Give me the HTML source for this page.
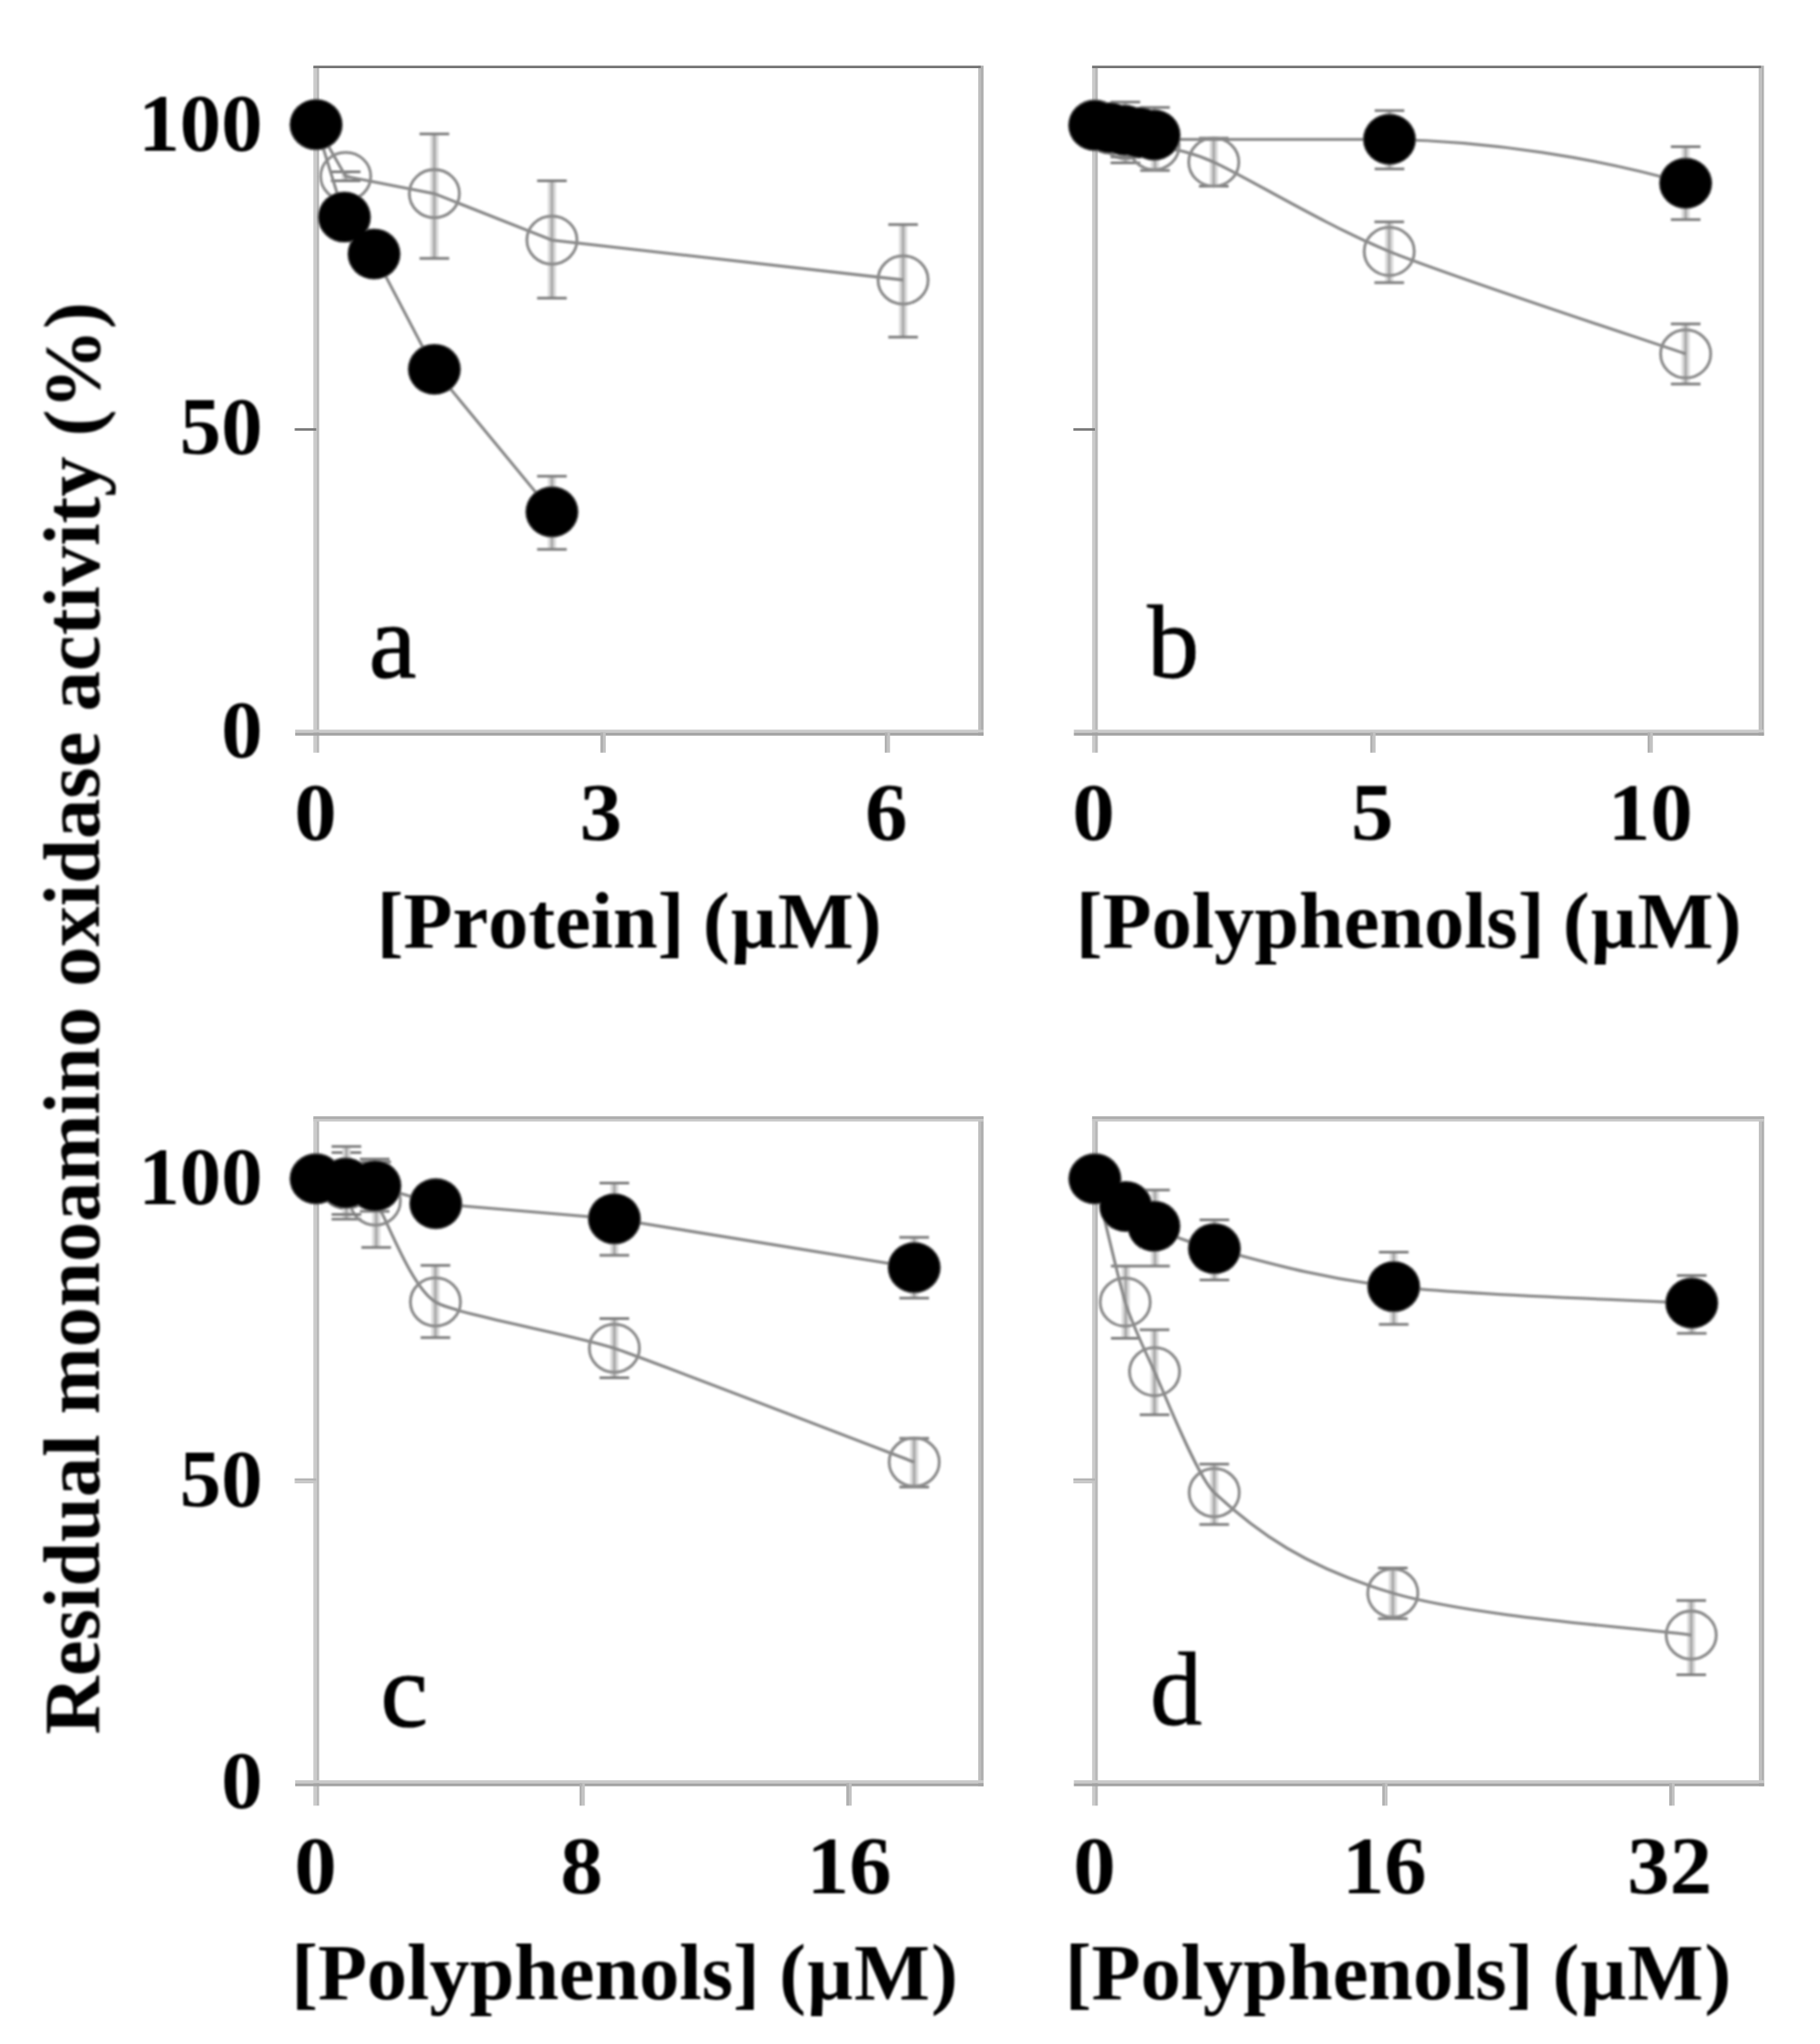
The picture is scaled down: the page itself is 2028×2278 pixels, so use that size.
<!DOCTYPE html>
<html lang="en"><head><meta charset="utf-8"><title>Residual monoamino oxidase activity</title>
<style>
html,body{margin:0;padding:0;background:#fff;}
body{width:2028px;height:2278px;overflow:hidden;}
svg{display:block;font-family:"Liberation Serif","DejaVu Serif",serif;fill:#000;}
.soft{filter:blur(0.8px);}
.crisp{filter:blur(0.35px);}
.tsoft{filter:blur(1.1px);}
</style></head><body>
<svg width="2028" height="2278" viewBox="0 0 2028 2278">
<rect width="2028" height="2278" fill="#fff"/>
<g class="crisp">
<rect x="349.20" y="74.6" width="3.20" height="764.20" fill="#cbcbcb"/>
<rect x="352.40" y="74.6" width="3.20" height="764.20" fill="#b8b8b8"/>
<rect x="1090.05" y="73.19999999999999" width="2.95" height="746.60" fill="#bebebe"/>
<rect x="1093.00" y="73.19999999999999" width="2.95" height="746.60" fill="#b0b0b0"/>
<rect x="349.2" y="73.19999999999999" width="743.60" height="2.8" fill="#757575"/>
<rect x="328.4" y="477.20000000000005" width="24" height="2.8" fill="#7a7a7a"/>
<rect x="328.9" y="813.20" width="767.00" height="3.30" fill="#cacaca"/>
<rect x="328.9" y="816.50" width="767.00" height="3.30" fill="#a2a2a2"/>
<rect x="669.05" y="816.5" width="2.95" height="22.30" fill="#b0b0b0"/>
<rect x="672.00" y="816.5" width="2.95" height="22.30" fill="#c2c2c2"/>
<rect x="985.85" y="816.5" width="2.95" height="22.30" fill="#b0b0b0"/>
<rect x="988.80" y="816.5" width="2.95" height="22.30" fill="#c2c2c2"/>
<rect x="1216.90" y="74.6" width="3.20" height="764.20" fill="#cbcbcb"/>
<rect x="1220.10" y="74.6" width="3.20" height="764.20" fill="#b8b8b8"/>
<rect x="1959.65" y="73.19999999999999" width="2.95" height="746.60" fill="#bebebe"/>
<rect x="1962.60" y="73.19999999999999" width="2.95" height="746.60" fill="#b0b0b0"/>
<rect x="1216.8999999999999" y="73.19999999999999" width="745.50" height="2.8" fill="#757575"/>
<rect x="1196.1" y="477.20000000000005" width="24" height="2.8" fill="#7a7a7a"/>
<rect x="1196.6" y="813.20" width="768.90" height="3.30" fill="#cacaca"/>
<rect x="1196.6" y="816.50" width="768.90" height="3.30" fill="#a2a2a2"/>
<rect x="1526.85" y="816.5" width="2.95" height="22.30" fill="#b0b0b0"/>
<rect x="1529.80" y="816.5" width="2.95" height="22.30" fill="#c2c2c2"/>
<rect x="1835.85" y="816.5" width="2.95" height="22.30" fill="#b0b0b0"/>
<rect x="1838.80" y="816.5" width="2.95" height="22.30" fill="#c2c2c2"/>
<rect x="349.20" y="1246" width="3.20" height="766.40" fill="#cbcbcb"/>
<rect x="352.40" y="1246" width="3.20" height="766.40" fill="#b8b8b8"/>
<rect x="1090.05" y="1244.6" width="2.95" height="746.10" fill="#bebebe"/>
<rect x="1093.00" y="1244.6" width="2.95" height="746.10" fill="#b0b0b0"/>
<rect x="349.2" y="1244.15" width="746.70" height="2.85" fill="#adadad"/>
<rect x="349.2" y="1247.00" width="746.70" height="2.85" fill="#c8c8c8"/>
<rect x="328.4" y="1647.60" width="24.00" height="2.80" fill="#b4b4b4"/>
<rect x="328.4" y="1650.40" width="24.00" height="2.80" fill="#c6c6c6"/>
<rect x="328.9" y="1984.10" width="767.00" height="3.30" fill="#cacaca"/>
<rect x="328.9" y="1987.40" width="767.00" height="3.30" fill="#a2a2a2"/>
<rect x="645.75" y="1987.4" width="2.95" height="25.00" fill="#b0b0b0"/>
<rect x="648.70" y="1987.4" width="2.95" height="25.00" fill="#c2c2c2"/>
<rect x="943.05" y="1987.4" width="2.95" height="25.00" fill="#b0b0b0"/>
<rect x="946.00" y="1987.4" width="2.95" height="25.00" fill="#c2c2c2"/>
<rect x="1216.90" y="1246" width="3.20" height="766.40" fill="#cbcbcb"/>
<rect x="1220.10" y="1246" width="3.20" height="766.40" fill="#b8b8b8"/>
<rect x="1959.85" y="1244.6" width="2.95" height="746.10" fill="#bebebe"/>
<rect x="1962.80" y="1244.6" width="2.95" height="746.10" fill="#b0b0b0"/>
<rect x="1216.8999999999999" y="1244.15" width="748.80" height="2.85" fill="#adadad"/>
<rect x="1216.8999999999999" y="1247.00" width="748.80" height="2.85" fill="#c8c8c8"/>
<rect x="1196.1" y="1647.60" width="24.00" height="2.80" fill="#b4b4b4"/>
<rect x="1196.1" y="1650.40" width="24.00" height="2.80" fill="#c6c6c6"/>
<rect x="1196.6" y="1984.10" width="769.10" height="3.30" fill="#cacaca"/>
<rect x="1196.6" y="1987.40" width="769.10" height="3.30" fill="#a2a2a2"/>
<rect x="1540.25" y="1987.4" width="2.95" height="25.00" fill="#b0b0b0"/>
<rect x="1543.20" y="1987.4" width="2.95" height="25.00" fill="#c2c2c2"/>
<rect x="1860.05" y="1987.4" width="2.95" height="25.00" fill="#b0b0b0"/>
<rect x="1863.00" y="1987.4" width="2.95" height="25.00" fill="#c2c2c2"/>
</g>
<g class="soft">
<line x1="385.2" y1="191.5" x2="385.2" y2="201.5" stroke="#dadada" stroke-width="9.2"/>
<line x1="385.2" y1="191.5" x2="385.2" y2="201.5" stroke="#a9a9a9" stroke-width="3.1"/>
<line x1="368.7" y1="191.5" x2="401.7" y2="191.5" stroke="#7c7c7c" stroke-width="3"/>
<line x1="368.7" y1="201.5" x2="401.7" y2="201.5" stroke="#7c7c7c" stroke-width="3"/>
<line x1="484" y1="149.3" x2="484" y2="288.1" stroke="#dadada" stroke-width="9.2"/>
<line x1="484" y1="149.3" x2="484" y2="288.1" stroke="#a9a9a9" stroke-width="3.1"/>
<line x1="467.5" y1="149.3" x2="500.5" y2="149.3" stroke="#7c7c7c" stroke-width="3"/>
<line x1="467.5" y1="288.1" x2="500.5" y2="288.1" stroke="#7c7c7c" stroke-width="3"/>
<line x1="615" y1="201.4" x2="615" y2="332.2" stroke="#dadada" stroke-width="9.2"/>
<line x1="615" y1="201.4" x2="615" y2="332.2" stroke="#a9a9a9" stroke-width="3.1"/>
<line x1="598.5" y1="201.4" x2="631.5" y2="201.4" stroke="#7c7c7c" stroke-width="3"/>
<line x1="598.5" y1="332.2" x2="631.5" y2="332.2" stroke="#7c7c7c" stroke-width="3"/>
<line x1="1006.3" y1="250.2" x2="1006.3" y2="375.7" stroke="#dadada" stroke-width="9.2"/>
<line x1="1006.3" y1="250.2" x2="1006.3" y2="375.7" stroke="#a9a9a9" stroke-width="3.1"/>
<line x1="989.8" y1="250.2" x2="1022.8" y2="250.2" stroke="#7c7c7c" stroke-width="3"/>
<line x1="989.8" y1="375.7" x2="1022.8" y2="375.7" stroke="#7c7c7c" stroke-width="3"/>
<path d="M352.2 138.9 L385.2 196.6 L484.0 215.8 L615.0 267.6 L1006.3 312.0" fill="none" stroke="#888888" stroke-width="3.3"/>
<ellipse cx="352.2" cy="138.9" rx="27.900000000000002" ry="26.8" fill="none" stroke="#8c8c8c" stroke-width="3.3"/>
<ellipse cx="385.2" cy="196.6" rx="27.900000000000002" ry="26.8" fill="none" stroke="#8c8c8c" stroke-width="3.3"/>
<ellipse cx="484" cy="215.8" rx="27.900000000000002" ry="26.8" fill="none" stroke="#8c8c8c" stroke-width="3.3"/>
<ellipse cx="615" cy="267.6" rx="27.900000000000002" ry="26.8" fill="none" stroke="#8c8c8c" stroke-width="3.3"/>
<ellipse cx="1006.3" cy="312" rx="27.900000000000002" ry="26.8" fill="none" stroke="#8c8c8c" stroke-width="3.3"/>
<line x1="615" y1="530.7" x2="615" y2="612.3" stroke="#dadada" stroke-width="9.2"/>
<line x1="615" y1="530.7" x2="615" y2="612.3" stroke="#a9a9a9" stroke-width="3.1"/>
<line x1="598.5" y1="530.7" x2="631.5" y2="530.7" stroke="#7c7c7c" stroke-width="3"/>
<line x1="598.5" y1="612.3" x2="631.5" y2="612.3" stroke="#7c7c7c" stroke-width="3"/>
<path d="M352.2 138.9 L383.8 241.9 L416.8 283.1 L484.0 411.6 L615.0 570.5" fill="none" stroke="#888888" stroke-width="3.3"/>
<ellipse cx="352.2" cy="138.9" rx="29.8" ry="28.7" fill="#555"/>
<ellipse cx="383.8" cy="241.9" rx="29.8" ry="28.7" fill="#555"/>
<ellipse cx="416.8" cy="283.1" rx="29.8" ry="28.7" fill="#555"/>
<ellipse cx="484" cy="411.6" rx="29.8" ry="28.7" fill="#555"/>
<ellipse cx="615" cy="570.5" rx="29.8" ry="28.7" fill="#555"/>
<ellipse cx="352.2" cy="138.9" rx="28.2" ry="27.099999999999998" fill="#000"/>
<ellipse cx="383.8" cy="241.9" rx="28.2" ry="27.099999999999998" fill="#000"/>
<ellipse cx="416.8" cy="283.1" rx="28.2" ry="27.099999999999998" fill="#000"/>
<ellipse cx="484" cy="411.6" rx="28.2" ry="27.099999999999998" fill="#000"/>
<ellipse cx="615" cy="570.5" rx="28.2" ry="27.099999999999998" fill="#000"/>
<line x1="1254" y1="135" x2="1254" y2="181.6" stroke="#dadada" stroke-width="9.2"/>
<line x1="1254" y1="135" x2="1254" y2="181.6" stroke="#a9a9a9" stroke-width="3.1"/>
<line x1="1237.5" y1="135" x2="1270.5" y2="135" stroke="#7c7c7c" stroke-width="3"/>
<line x1="1237.5" y1="181.6" x2="1270.5" y2="181.6" stroke="#7c7c7c" stroke-width="3"/>
<line x1="1287" y1="131" x2="1287" y2="190" stroke="#dadada" stroke-width="9.2"/>
<line x1="1287" y1="131" x2="1287" y2="190" stroke="#a9a9a9" stroke-width="3.1"/>
<line x1="1270.5" y1="131" x2="1303.5" y2="131" stroke="#7c7c7c" stroke-width="3"/>
<line x1="1270.5" y1="190" x2="1303.5" y2="190" stroke="#7c7c7c" stroke-width="3"/>
<line x1="1352.5" y1="154" x2="1352.5" y2="207.6" stroke="#dadada" stroke-width="9.2"/>
<line x1="1352.5" y1="154" x2="1352.5" y2="207.6" stroke="#a9a9a9" stroke-width="3.1"/>
<line x1="1336.0" y1="154" x2="1369.0" y2="154" stroke="#7c7c7c" stroke-width="3"/>
<line x1="1336.0" y1="207.6" x2="1369.0" y2="207.6" stroke="#7c7c7c" stroke-width="3"/>
<line x1="1548" y1="247.3" x2="1548" y2="315" stroke="#dadada" stroke-width="9.2"/>
<line x1="1548" y1="247.3" x2="1548" y2="315" stroke="#a9a9a9" stroke-width="3.1"/>
<line x1="1531.5" y1="247.3" x2="1564.5" y2="247.3" stroke="#7c7c7c" stroke-width="3"/>
<line x1="1531.5" y1="315" x2="1564.5" y2="315" stroke="#7c7c7c" stroke-width="3"/>
<line x1="1878.3" y1="360.9" x2="1878.3" y2="427.9" stroke="#dadada" stroke-width="9.2"/>
<line x1="1878.3" y1="360.9" x2="1878.3" y2="427.9" stroke="#a9a9a9" stroke-width="3.1"/>
<line x1="1861.8" y1="360.9" x2="1894.8" y2="360.9" stroke="#7c7c7c" stroke-width="3"/>
<line x1="1861.8" y1="427.9" x2="1894.8" y2="427.9" stroke="#7c7c7c" stroke-width="3"/>
<path d="M1220.0 138.9 C1222.3 139.6 1232.5 142.5 1237.0 144.0 C1241.5 145.5 1247.5 147.6 1254.0 150.0 C1260.5 152.4 1272.9 158.2 1286.0 162.3 C1299.1 166.4 1317.6 165.0 1352.5 180.7 C1387.4 196.4 1477.9 251.7 1548.0 280.2 C1618.1 308.7 1834.3 379.2 1878.3 394.4" fill="none" stroke="#888888" stroke-width="3.3"/>
<ellipse cx="1220" cy="138.9" rx="27.900000000000002" ry="26.8" fill="none" stroke="#8c8c8c" stroke-width="3.3"/>
<ellipse cx="1237" cy="144" rx="27.900000000000002" ry="26.8" fill="none" stroke="#8c8c8c" stroke-width="3.3"/>
<ellipse cx="1254" cy="150" rx="27.900000000000002" ry="26.8" fill="none" stroke="#8c8c8c" stroke-width="3.3"/>
<ellipse cx="1286" cy="162.3" rx="27.900000000000002" ry="26.8" fill="none" stroke="#8c8c8c" stroke-width="3.3"/>
<ellipse cx="1352.5" cy="180.7" rx="27.900000000000002" ry="26.8" fill="none" stroke="#8c8c8c" stroke-width="3.3"/>
<ellipse cx="1548" cy="280.2" rx="27.900000000000002" ry="26.8" fill="none" stroke="#8c8c8c" stroke-width="3.3"/>
<ellipse cx="1878.3" cy="394.4" rx="27.900000000000002" ry="26.8" fill="none" stroke="#8c8c8c" stroke-width="3.3"/>
<path d="M1286 155.3 L1548.3 155.3 C1660 157 1780 176 1878.3 204.3" fill="none" stroke="#888888" stroke-width="3.3"/>
<line x1="1254" y1="113.7" x2="1254" y2="175" stroke="#dadada" stroke-width="9.2"/>
<line x1="1254" y1="113.7" x2="1254" y2="175" stroke="#a9a9a9" stroke-width="3.1"/>
<line x1="1237.5" y1="113.7" x2="1270.5" y2="113.7" stroke="#7c7c7c" stroke-width="3"/>
<line x1="1237.5" y1="175" x2="1270.5" y2="175" stroke="#7c7c7c" stroke-width="3"/>
<line x1="1287" y1="119.8" x2="1287" y2="170" stroke="#dadada" stroke-width="9.2"/>
<line x1="1287" y1="119.8" x2="1287" y2="170" stroke="#a9a9a9" stroke-width="3.1"/>
<line x1="1270.5" y1="119.8" x2="1303.5" y2="119.8" stroke="#7c7c7c" stroke-width="3"/>
<line x1="1270.5" y1="170" x2="1303.5" y2="170" stroke="#7c7c7c" stroke-width="3"/>
<line x1="1548.3" y1="123.2" x2="1548.3" y2="188.2" stroke="#dadada" stroke-width="9.2"/>
<line x1="1548.3" y1="123.2" x2="1548.3" y2="188.2" stroke="#a9a9a9" stroke-width="3.1"/>
<line x1="1531.8" y1="123.2" x2="1564.8" y2="123.2" stroke="#7c7c7c" stroke-width="3"/>
<line x1="1531.8" y1="188.2" x2="1564.8" y2="188.2" stroke="#7c7c7c" stroke-width="3"/>
<line x1="1878.3" y1="163.6" x2="1878.3" y2="244.7" stroke="#dadada" stroke-width="9.2"/>
<line x1="1878.3" y1="163.6" x2="1878.3" y2="244.7" stroke="#a9a9a9" stroke-width="3.1"/>
<line x1="1861.8" y1="163.6" x2="1894.8" y2="163.6" stroke="#7c7c7c" stroke-width="3"/>
<line x1="1861.8" y1="244.7" x2="1894.8" y2="244.7" stroke="#7c7c7c" stroke-width="3"/>
<ellipse cx="1219.8" cy="139.7" rx="29.8" ry="28.7" fill="#555"/>
<ellipse cx="1236.5" cy="142.4" rx="29.8" ry="28.7" fill="#555"/>
<ellipse cx="1253" cy="145.1" rx="29.8" ry="28.7" fill="#555"/>
<ellipse cx="1269.5" cy="147.8" rx="29.8" ry="28.7" fill="#555"/>
<ellipse cx="1286" cy="150.5" rx="29.8" ry="28.7" fill="#555"/>
<ellipse cx="1548.3" cy="155.3" rx="29.8" ry="28.7" fill="#555"/>
<ellipse cx="1878.3" cy="204.3" rx="29.8" ry="28.7" fill="#555"/>
<ellipse cx="1219.8" cy="139.7" rx="28.2" ry="27.099999999999998" fill="#000"/>
<ellipse cx="1236.5" cy="142.4" rx="28.2" ry="27.099999999999998" fill="#000"/>
<ellipse cx="1253" cy="145.1" rx="28.2" ry="27.099999999999998" fill="#000"/>
<ellipse cx="1269.5" cy="147.8" rx="28.2" ry="27.099999999999998" fill="#000"/>
<ellipse cx="1286" cy="150.5" rx="28.2" ry="27.099999999999998" fill="#000"/>
<ellipse cx="1548.3" cy="155.3" rx="28.2" ry="27.099999999999998" fill="#000"/>
<ellipse cx="1878.3" cy="204.3" rx="28.2" ry="27.099999999999998" fill="#000"/>
<line x1="386" y1="1284.5" x2="386" y2="1358.8" stroke="#dadada" stroke-width="9.2"/>
<line x1="386" y1="1284.5" x2="386" y2="1358.8" stroke="#a9a9a9" stroke-width="3.1"/>
<line x1="369.5" y1="1284.5" x2="402.5" y2="1284.5" stroke="#7c7c7c" stroke-width="3"/>
<line x1="369.5" y1="1358.8" x2="402.5" y2="1358.8" stroke="#7c7c7c" stroke-width="3"/>
<line x1="419.2" y1="1295" x2="419.2" y2="1390.3" stroke="#dadada" stroke-width="9.2"/>
<line x1="419.2" y1="1295" x2="419.2" y2="1390.3" stroke="#a9a9a9" stroke-width="3.1"/>
<line x1="402.7" y1="1295" x2="435.7" y2="1295" stroke="#7c7c7c" stroke-width="3"/>
<line x1="402.7" y1="1390.3" x2="435.7" y2="1390.3" stroke="#7c7c7c" stroke-width="3"/>
<line x1="485.2" y1="1410.2" x2="485.2" y2="1490.8" stroke="#dadada" stroke-width="9.2"/>
<line x1="485.2" y1="1410.2" x2="485.2" y2="1490.8" stroke="#a9a9a9" stroke-width="3.1"/>
<line x1="468.7" y1="1410.2" x2="501.7" y2="1410.2" stroke="#7c7c7c" stroke-width="3"/>
<line x1="468.7" y1="1490.8" x2="501.7" y2="1490.8" stroke="#7c7c7c" stroke-width="3"/>
<line x1="684.6" y1="1469.6" x2="684.6" y2="1535.5" stroke="#dadada" stroke-width="9.2"/>
<line x1="684.6" y1="1469.6" x2="684.6" y2="1535.5" stroke="#a9a9a9" stroke-width="3.1"/>
<line x1="668.1" y1="1469.6" x2="701.1" y2="1469.6" stroke="#7c7c7c" stroke-width="3"/>
<line x1="668.1" y1="1535.5" x2="701.1" y2="1535.5" stroke="#7c7c7c" stroke-width="3"/>
<line x1="1018.7" y1="1602.9" x2="1018.7" y2="1657.3" stroke="#dadada" stroke-width="9.2"/>
<line x1="1018.7" y1="1602.9" x2="1018.7" y2="1657.3" stroke="#a9a9a9" stroke-width="3.1"/>
<line x1="1002.2" y1="1602.9" x2="1035.2" y2="1602.9" stroke="#7c7c7c" stroke-width="3"/>
<line x1="1002.2" y1="1657.3" x2="1035.2" y2="1657.3" stroke="#7c7c7c" stroke-width="3"/>
<path d="M352.2 1313.8 C355.5 1314.4 378.6 1317.5 385.2 1320.0 C391.8 1322.5 408.2 1325.4 418.2 1338.5 C428.9 1352.5 456.8 1433.5 485.2 1451.0 C507.4 1464.7 640.1 1487.7 684.6 1502.6 C720.2 1514.5 996.4 1621.0 1018.7 1629.5" fill="none" stroke="#888888" stroke-width="3.3"/>
<ellipse cx="352.2" cy="1313.8" rx="27.900000000000002" ry="26.8" fill="none" stroke="#8c8c8c" stroke-width="3.3"/>
<ellipse cx="385.2" cy="1320" rx="27.900000000000002" ry="26.8" fill="none" stroke="#8c8c8c" stroke-width="3.3"/>
<ellipse cx="418.2" cy="1338.5" rx="27.900000000000002" ry="26.8" fill="none" stroke="#8c8c8c" stroke-width="3.3"/>
<ellipse cx="485.2" cy="1451" rx="27.900000000000002" ry="26.8" fill="none" stroke="#8c8c8c" stroke-width="3.3"/>
<ellipse cx="684.6" cy="1502.6" rx="27.900000000000002" ry="26.8" fill="none" stroke="#8c8c8c" stroke-width="3.3"/>
<ellipse cx="1018.7" cy="1629.5" rx="27.900000000000002" ry="26.8" fill="none" stroke="#8c8c8c" stroke-width="3.3"/>
<line x1="386" y1="1277.8" x2="386" y2="1353.4" stroke="#dadada" stroke-width="9.2"/>
<line x1="386" y1="1277.8" x2="386" y2="1353.4" stroke="#a9a9a9" stroke-width="3.1"/>
<line x1="369.5" y1="1277.8" x2="402.5" y2="1277.8" stroke="#7c7c7c" stroke-width="3"/>
<line x1="369.5" y1="1353.4" x2="402.5" y2="1353.4" stroke="#7c7c7c" stroke-width="3"/>
<line x1="417.5" y1="1291.7" x2="417.5" y2="1350" stroke="#dadada" stroke-width="9.2"/>
<line x1="417.5" y1="1291.7" x2="417.5" y2="1350" stroke="#a9a9a9" stroke-width="3.1"/>
<line x1="401.0" y1="1291.7" x2="434.0" y2="1291.7" stroke="#7c7c7c" stroke-width="3"/>
<line x1="401.0" y1="1350" x2="434.0" y2="1350" stroke="#7c7c7c" stroke-width="3"/>
<line x1="684.6" y1="1318.5" x2="684.6" y2="1399" stroke="#dadada" stroke-width="9.2"/>
<line x1="684.6" y1="1318.5" x2="684.6" y2="1399" stroke="#a9a9a9" stroke-width="3.1"/>
<line x1="668.1" y1="1318.5" x2="701.1" y2="1318.5" stroke="#7c7c7c" stroke-width="3"/>
<line x1="668.1" y1="1399" x2="701.1" y2="1399" stroke="#7c7c7c" stroke-width="3"/>
<line x1="1018.7" y1="1379" x2="1018.7" y2="1446.8" stroke="#dadada" stroke-width="9.2"/>
<line x1="1018.7" y1="1379" x2="1018.7" y2="1446.8" stroke="#a9a9a9" stroke-width="3.1"/>
<line x1="1002.2" y1="1379" x2="1035.2" y2="1379" stroke="#7c7c7c" stroke-width="3"/>
<line x1="1002.2" y1="1446.8" x2="1035.2" y2="1446.8" stroke="#7c7c7c" stroke-width="3"/>
<path d="M352.2 1313.8 L385.2 1318.5 L417.8 1321.6 L485.6 1341.5 L684.6 1358.4 L1018.7 1412.7" fill="none" stroke="#888888" stroke-width="3.3"/>
<ellipse cx="352.2" cy="1313.8" rx="29.8" ry="28.7" fill="#555"/>
<ellipse cx="385.2" cy="1318.5" rx="29.8" ry="28.7" fill="#555"/>
<ellipse cx="417.8" cy="1321.6" rx="29.8" ry="28.7" fill="#555"/>
<ellipse cx="485.6" cy="1341.5" rx="29.8" ry="28.7" fill="#555"/>
<ellipse cx="684.6" cy="1358.4" rx="29.8" ry="28.7" fill="#555"/>
<ellipse cx="1018.7" cy="1412.7" rx="29.8" ry="28.7" fill="#555"/>
<ellipse cx="352.2" cy="1313.8" rx="28.2" ry="27.099999999999998" fill="#000"/>
<ellipse cx="385.2" cy="1318.5" rx="28.2" ry="27.099999999999998" fill="#000"/>
<ellipse cx="417.8" cy="1321.6" rx="28.2" ry="27.099999999999998" fill="#000"/>
<ellipse cx="485.6" cy="1341.5" rx="28.2" ry="27.099999999999998" fill="#000"/>
<ellipse cx="684.6" cy="1358.4" rx="28.2" ry="27.099999999999998" fill="#000"/>
<ellipse cx="1018.7" cy="1412.7" rx="28.2" ry="27.099999999999998" fill="#000"/>
<line x1="1254.4" y1="1410.9" x2="1254.4" y2="1491.6" stroke="#dadada" stroke-width="9.2"/>
<line x1="1254.4" y1="1410.9" x2="1254.4" y2="1491.6" stroke="#a9a9a9" stroke-width="3.1"/>
<line x1="1237.9" y1="1410.9" x2="1270.9" y2="1410.9" stroke="#7c7c7c" stroke-width="3"/>
<line x1="1237.9" y1="1491.6" x2="1270.9" y2="1491.6" stroke="#7c7c7c" stroke-width="3"/>
<line x1="1286.5" y1="1482" x2="1286.5" y2="1576.8" stroke="#dadada" stroke-width="9.2"/>
<line x1="1286.5" y1="1482" x2="1286.5" y2="1576.8" stroke="#a9a9a9" stroke-width="3.1"/>
<line x1="1270.0" y1="1482" x2="1303.0" y2="1482" stroke="#7c7c7c" stroke-width="3"/>
<line x1="1270.0" y1="1576.8" x2="1303.0" y2="1576.8" stroke="#7c7c7c" stroke-width="3"/>
<line x1="1353" y1="1631.7" x2="1353" y2="1699" stroke="#dadada" stroke-width="9.2"/>
<line x1="1353" y1="1631.7" x2="1353" y2="1699" stroke="#a9a9a9" stroke-width="3.1"/>
<line x1="1336.5" y1="1631.7" x2="1369.5" y2="1631.7" stroke="#7c7c7c" stroke-width="3"/>
<line x1="1336.5" y1="1699" x2="1369.5" y2="1699" stroke="#7c7c7c" stroke-width="3"/>
<line x1="1552" y1="1747.5" x2="1552" y2="1804" stroke="#dadada" stroke-width="9.2"/>
<line x1="1552" y1="1747.5" x2="1552" y2="1804" stroke="#a9a9a9" stroke-width="3.1"/>
<line x1="1535.5" y1="1747.5" x2="1568.5" y2="1747.5" stroke="#7c7c7c" stroke-width="3"/>
<line x1="1535.5" y1="1804" x2="1568.5" y2="1804" stroke="#7c7c7c" stroke-width="3"/>
<line x1="1884.5" y1="1783.7" x2="1884.5" y2="1866.6" stroke="#dadada" stroke-width="9.2"/>
<line x1="1884.5" y1="1783.7" x2="1884.5" y2="1866.6" stroke="#a9a9a9" stroke-width="3.1"/>
<line x1="1868.0" y1="1783.7" x2="1901.0" y2="1783.7" stroke="#7c7c7c" stroke-width="3"/>
<line x1="1868.0" y1="1866.6" x2="1901.0" y2="1866.6" stroke="#7c7c7c" stroke-width="3"/>
<path d="M1220.0 1313.8 C1223.4 1327.5 1247.1 1429.7 1253.8 1451.2 C1260.5 1472.7 1276.6 1507.5 1286.5 1528.7 C1293.8 1544.3 1333.5 1645.4 1353.0 1663.5 C1401.7 1708.7 1454.6 1746.4 1552.0 1775.5 C1640.6 1802.0 1829.1 1814.5 1884.5 1822.3" fill="none" stroke="#888888" stroke-width="3.3"/>
<ellipse cx="1220" cy="1313.8" rx="27.900000000000002" ry="26.8" fill="none" stroke="#8c8c8c" stroke-width="3.3"/>
<ellipse cx="1253.8" cy="1451.2" rx="27.900000000000002" ry="26.8" fill="none" stroke="#8c8c8c" stroke-width="3.3"/>
<ellipse cx="1286.5" cy="1528.7" rx="27.900000000000002" ry="26.8" fill="none" stroke="#8c8c8c" stroke-width="3.3"/>
<ellipse cx="1353" cy="1663.5" rx="27.900000000000002" ry="26.8" fill="none" stroke="#8c8c8c" stroke-width="3.3"/>
<ellipse cx="1552" cy="1775.5" rx="27.900000000000002" ry="26.8" fill="none" stroke="#8c8c8c" stroke-width="3.3"/>
<ellipse cx="1884.5" cy="1822.3" rx="27.900000000000002" ry="26.8" fill="none" stroke="#8c8c8c" stroke-width="3.3"/>
<line x1="1287" y1="1326.2" x2="1287" y2="1410.9" stroke="#dadada" stroke-width="9.2"/>
<line x1="1287" y1="1326.2" x2="1287" y2="1410.9" stroke="#a9a9a9" stroke-width="3.1"/>
<line x1="1270.5" y1="1326.2" x2="1303.5" y2="1326.2" stroke="#7c7c7c" stroke-width="3"/>
<line x1="1270.5" y1="1410.9" x2="1303.5" y2="1410.9" stroke="#7c7c7c" stroke-width="3"/>
<line x1="1353.2" y1="1359.5" x2="1353.2" y2="1426.6" stroke="#dadada" stroke-width="9.2"/>
<line x1="1353.2" y1="1359.5" x2="1353.2" y2="1426.6" stroke="#a9a9a9" stroke-width="3.1"/>
<line x1="1336.7" y1="1359.5" x2="1369.7" y2="1359.5" stroke="#7c7c7c" stroke-width="3"/>
<line x1="1336.7" y1="1426.6" x2="1369.7" y2="1426.6" stroke="#7c7c7c" stroke-width="3"/>
<line x1="1553" y1="1395.4" x2="1553" y2="1476" stroke="#dadada" stroke-width="9.2"/>
<line x1="1553" y1="1395.4" x2="1553" y2="1476" stroke="#a9a9a9" stroke-width="3.1"/>
<line x1="1536.5" y1="1395.4" x2="1569.5" y2="1395.4" stroke="#7c7c7c" stroke-width="3"/>
<line x1="1536.5" y1="1476" x2="1569.5" y2="1476" stroke="#7c7c7c" stroke-width="3"/>
<line x1="1885.1" y1="1421.5" x2="1885.1" y2="1486.1" stroke="#dadada" stroke-width="9.2"/>
<line x1="1885.1" y1="1421.5" x2="1885.1" y2="1486.1" stroke="#a9a9a9" stroke-width="3.1"/>
<line x1="1868.6" y1="1421.5" x2="1901.6" y2="1421.5" stroke="#7c7c7c" stroke-width="3"/>
<line x1="1868.6" y1="1486.1" x2="1901.6" y2="1486.1" stroke="#7c7c7c" stroke-width="3"/>
<path d="M1220.0 1313.8 C1225.7 1318.9 1243.4 1335.8 1254.4 1344.6 C1265.4 1353.4 1269.3 1358.8 1285.8 1366.6 C1302.3 1374.4 1308.7 1380.4 1353.2 1391.6 C1397.7 1402.8 1464.3 1423.8 1553.0 1433.9 C1641.7 1444.0 1829.8 1449.2 1885.1 1452.3" fill="none" stroke="#888888" stroke-width="3.3"/>
<ellipse cx="1220" cy="1313.8" rx="29.8" ry="28.7" fill="#555"/>
<ellipse cx="1254.4" cy="1344.6" rx="29.8" ry="28.7" fill="#555"/>
<ellipse cx="1285.8" cy="1366.6" rx="29.8" ry="28.7" fill="#555"/>
<ellipse cx="1353.2" cy="1391.6" rx="29.8" ry="28.7" fill="#555"/>
<ellipse cx="1553" cy="1433.9" rx="29.8" ry="28.7" fill="#555"/>
<ellipse cx="1885.1" cy="1452.3" rx="29.8" ry="28.7" fill="#555"/>
<ellipse cx="1220" cy="1313.8" rx="28.2" ry="27.099999999999998" fill="#000"/>
<ellipse cx="1254.4" cy="1344.6" rx="28.2" ry="27.099999999999998" fill="#000"/>
<ellipse cx="1285.8" cy="1366.6" rx="28.2" ry="27.099999999999998" fill="#000"/>
<ellipse cx="1353.2" cy="1391.6" rx="28.2" ry="27.099999999999998" fill="#000"/>
<ellipse cx="1553" cy="1433.9" rx="28.2" ry="27.099999999999998" fill="#000"/>
<ellipse cx="1885.1" cy="1452.3" rx="28.2" ry="27.099999999999998" fill="#000"/>
</g>
<g class="tsoft">
<text transform="translate(292.6,168) scale(1.022,1)" font-size="90.3" font-weight="bold" text-anchor="end" >100</text>
<text transform="translate(292.6,506) scale(1.022,1)" font-size="90.3" font-weight="bold" text-anchor="end" >50</text>
<text transform="translate(292.6,844) scale(1.022,1)" font-size="90.3" font-weight="bold" text-anchor="end" >0</text>
<text transform="translate(292.6,1342) scale(1.022,1)" font-size="90.3" font-weight="bold" text-anchor="end" >100</text>
<text transform="translate(292.6,1678.5) scale(1.022,1)" font-size="90.3" font-weight="bold" text-anchor="end" >50</text>
<text transform="translate(292.6,2015) scale(1.022,1)" font-size="90.3" font-weight="bold" text-anchor="end" >0</text>
<text transform="translate(351.7,936.2) scale(1.045,1)" font-size="90.3" font-weight="bold" text-anchor="middle" >0</text>
<text transform="translate(669.5,936.2) scale(1.045,1)" font-size="90.3" font-weight="bold" text-anchor="middle" >3</text>
<text transform="translate(987.5,936.2) scale(1.045,1)" font-size="90.3" font-weight="bold" text-anchor="middle" >6</text>
<text transform="translate(1218.5,936.2) scale(1.045,1)" font-size="90.3" font-weight="bold" text-anchor="middle" >0</text>
<text transform="translate(1529,936.2) scale(1.045,1)" font-size="90.3" font-weight="bold" text-anchor="middle" >5</text>
<text transform="translate(1839,936.2) scale(1.045,1)" font-size="90.3" font-weight="bold" text-anchor="middle" >10</text>
<text transform="translate(351.7,2110) scale(1.045,1)" font-size="90.3" font-weight="bold" text-anchor="middle" >0</text>
<text transform="translate(648.2,2110) scale(1.045,1)" font-size="90.3" font-weight="bold" text-anchor="middle" >8</text>
<text transform="translate(946.2,2110) scale(1.045,1)" font-size="90.3" font-weight="bold" text-anchor="middle" >16</text>
<text transform="translate(1219.5,2110) scale(1.045,1)" font-size="90.3" font-weight="bold" text-anchor="middle" >0</text>
<text transform="translate(1542.6,2110) scale(1.045,1)" font-size="90.3" font-weight="bold" text-anchor="middle" >16</text>
<text transform="translate(1860.4,2110) scale(1.045,1)" font-size="90.3" font-weight="bold" text-anchor="middle" >32</text>
<text y="1055.8" font-size="89.5" font-weight="bold" style="font-kerning:none"><tspan x="419.7">[Protein] </tspan><tspan x="783.3" letter-spacing="1.4">(μM)</tspan></text>
<text y="1055.8" font-size="89.5" font-weight="bold" style="font-kerning:none"><tspan x="1198.8">[Polyphenols] </tspan><tspan x="1741.5" letter-spacing="1.4">(μM)</tspan></text>
<text y="2228" font-size="89.5" font-weight="bold" style="font-kerning:none"><tspan x="324.4">[Polyphenols] </tspan><tspan x="868.3" letter-spacing="1.4">(μM)</tspan></text>
<text y="2228" font-size="89.5" font-weight="bold" style="font-kerning:none"><tspan x="1186.5">[Polyphenols] </tspan><tspan x="1730.1" letter-spacing="1.4">(μM)</tspan></text>
<text x="411" y="755" font-size="119" font-weight="normal" text-anchor="start" stroke="#000" stroke-width="1.2">a</text>
<text x="1278.3" y="754.7" font-size="116" font-weight="normal" text-anchor="start" stroke="#000" stroke-width="0.8">b</text>
<text x="424" y="1923.5" font-size="119" font-weight="normal" text-anchor="start" stroke="#000" stroke-width="1.2">c</text>
<text x="1281.5" y="1922.2" font-size="116" font-weight="normal" text-anchor="start" stroke="#000" stroke-width="0.8">d</text>
<text transform="translate(110.2,1134.8) rotate(-90)" font-size="89.8" style="font-kerning:none" font-weight="bold" text-anchor="middle">Residual monoamino oxidase activity (%)</text>
</g>
</svg></body></html>
